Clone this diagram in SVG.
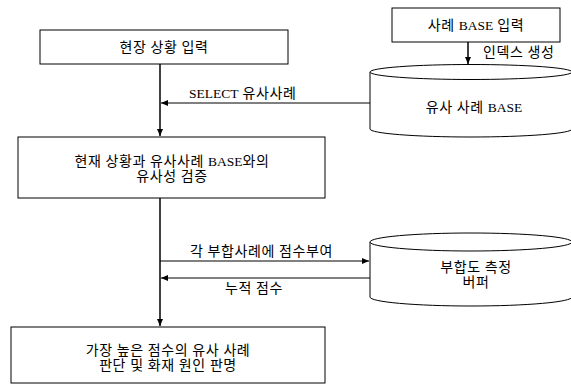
<svg xmlns="http://www.w3.org/2000/svg" width="571" height="385" viewBox="0 0 571 385">
<style>
.box{fill:#fff;stroke:#000;stroke-width:1}
.cyl{fill:#fff;stroke:#000;stroke-width:1}
text{font-family:"Liberation Serif","Noto Sans CJK KR",serif;font-size:14px;fill:#000;letter-spacing:0.6px}
.t{text-anchor:middle}
.la{font-size:13.5px;letter-spacing:0px}
.ln{stroke:#000;stroke-width:1;fill:none}
.thick{stroke:#000;stroke-width:1.5;fill:none}
</style>
<defs>
<marker id="ah" markerWidth="8" markerHeight="8" refX="7" refY="4" orient="auto" markerUnits="userSpaceOnUse">
<path d="M0,1 L7,4 L0,7 Z" fill="#000"/>
</marker>
</defs>
<rect width="571" height="385" fill="#fff"/>
<g id="connectors">
<line class="thick" x1="160" y1="64" x2="160" y2="136" marker-end="url(#ah)"/>
<line class="ln" x1="370" y1="103" x2="161" y2="103" marker-end="url(#ah)"/>
<text x="189" y="98"><tspan class="la">SELECT</tspan> 유사사례</text>
<line class="thick" x1="468" y1="42" x2="468" y2="64" marker-end="url(#ah)"/>
<text x="483" y="57">인덱스 생성</text>
<line class="thick" x1="160" y1="198" x2="160" y2="326" marker-end="url(#ah)"/>
<line class="ln" x1="160" y1="261" x2="369" y2="261" marker-end="url(#ah)"/>
<text x="190" y="256">각 부합사례에 점수부여</text>
<line class="ln" x1="370" y1="278" x2="161" y2="278" marker-end="url(#ah)"/>
<text class="t" x="254" y="293">누적 점수</text>
</g>
<g id="n1">
<rect class="box" x="40" y="30" width="248" height="34"/>
<text class="t" x="164" y="52">현장 상황 입력</text>
</g>
<g id="n2">
<rect class="box" x="18" y="137" width="307" height="61"/>
<text class="t" x="172" y="166">현재 상황과 유사사례 <tspan class="la">BASE</tspan>와의</text>
<text class="t" x="172" y="181">유사성 검증</text>
</g>
<g id="n3">
<rect class="box" x="392" y="8" width="168" height="34"/>
<text class="t" x="476" y="30">사례 <tspan class="la">BASE</tspan> 입력</text>
</g>
<g id="n4">
<path class="cyl" d="M370,72 L370,129 A101,8 0 0 0 572,129 L572,72"/>
<ellipse class="cyl" cx="471" cy="72" rx="101" ry="7.5"/>
<text class="t" x="474" y="112">유사 사례 <tspan class="la">BASE</tspan></text>
</g>
<g id="n5">
<path class="cyl" d="M370,242 L370,297 A101,9 0 0 0 572,297 L572,242"/>
<ellipse class="cyl" cx="471" cy="242" rx="101" ry="9"/>
<text class="t" x="476" y="272">부합도 측정</text>
<text class="t" x="476" y="287">버퍼</text>
</g>
<g id="n6">
<rect class="box" x="11" y="327" width="314" height="56"/>
<text class="t" x="168" y="355">가장 높은 점수의 유사 사례</text>
<text class="t" x="168" y="370">판단 및 화재 원인 판명</text>
</g>
</svg>
